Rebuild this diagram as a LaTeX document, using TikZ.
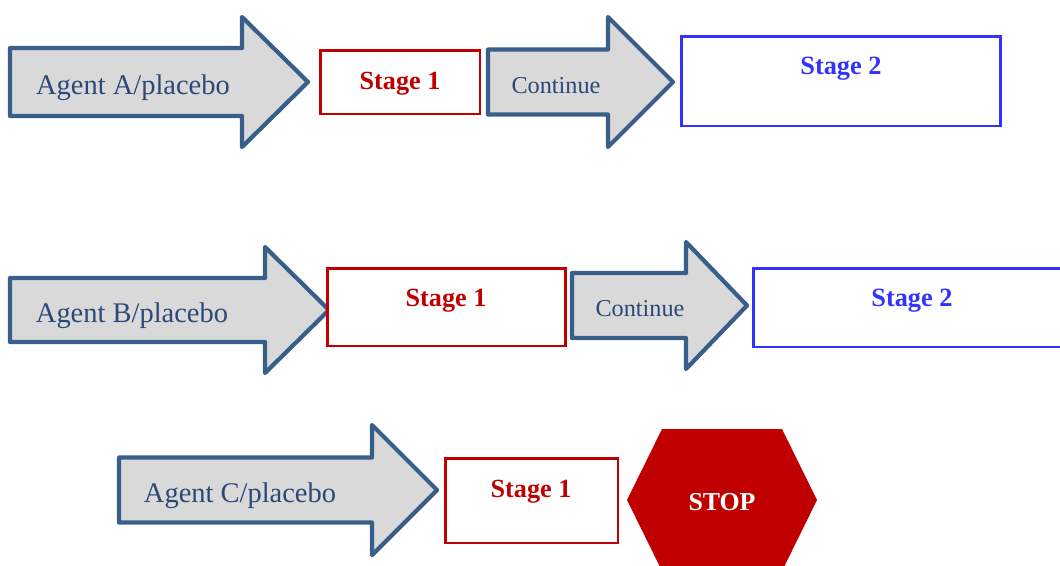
\documentclass[tikz,border=0pt]{standalone}
\usepackage{fontspec}
\setmainfont{Liberation Serif}
\usetikzlibrary{positioning}
\definecolor{arrowline}{RGB}{58,94,138}
\definecolor{arrowfill}{RGB}{217,217,217}
\definecolor{agenttext}{RGB}{44,72,118}
\definecolor{stagered}{RGB}{192,0,0}
\definecolor{stageblue}{RGB}{51,51,255}
% block arrow: left x, head base x, tip x, centre y, half shaft, half head
\newcommand{\blkarrow}[6]{%
  \draw[blockarrow] (#1,#4-#5) -- (#2,#4-#5) -- (#2,#4-#6) -- (#3,#4)
    -- (#2,#4+#6) -- (#2,#4+#5) -- (#1,#4+#5) -- cycle;}
\begin{document}
\begin{tikzpicture}
[x=0.02cm, y=-0.02cm]
\tikzstyle{blockarrow}=[draw=arrowline, fill=arrowfill, line width=2.4pt, line join=round]
\tikzstyle{agent}=[text=agenttext, font=\fontsize{16.2}{18}\selectfont, inner sep=0pt]
\tikzstyle{cont}=[text=agenttext, font=\fontsize{13.8}{16}\selectfont, inner sep=0pt]
\tikzstyle{stage1}=[draw=stagered, line width=1.7pt, fill=white]
\tikzstyle{stage2}=[draw=stageblue, line width=1.7pt, fill=white]
\tikzstyle{redtxt}=[text=stagered, font=\fontsize{14.9}{17}\selectfont\bfseries, inner sep=0pt]
\tikzstyle{bluetxt}=[text=stageblue, font=\fontsize{15}{17}\selectfont\bfseries, inner sep=0pt]
\useasboundingbox (0,0) rectangle (1060,565);

% row A
\blkarrow{10}{242}{308}{82}{34}{65}
\node[agent] (agA) at (133,88) {Agent A/placebo};
\node[stage1, minimum width=3.2cm, minimum height=1.28cm] (s1A) at (400,82) {};
\node[redtxt] (s1Atxt) at (400,84) {Stage 1};
\blkarrow{488}{608}{673}{82}{32.5}{65}
\node[cont] (contA) at (556,86) {Continue};
\node[stage2, minimum width=6.4cm, minimum height=1.8cm] (s2A) at (841,81) {};
\node[bluetxt] (s2Atxt) at (841,69) {Stage 2};

% row B
\blkarrow{10}{265}{329}{310}{32}{63}
\node[agent] (agB) at (132,316) {Agent B/placebo};
\node[stage1, minimum width=4.78cm, minimum height=1.56cm] (s1B) at (446.5,307) {};
\node[redtxt] (s1Btxt) at (446,301) {Stage 1};
\blkarrow{572}{686}{747}{305.5}{32.5}{63.5}
\node[cont] (contB) at (640,309) {Continue};
\node[stage2, minimum width=6.18cm, minimum height=1.58cm] (s2B) at (907.5,307.5) {};
\node[bluetxt] (s2Btxt) at (912,301) {Stage 2};

% row C
\blkarrow{119}{372}{437}{490}{32.5}{65}
\node[agent] (agC) at (240,496) {Agent C/placebo};
\node[stage1, minimum width=3.46cm, minimum height=1.7cm] (s1C) at (531.5,500.5) {};
\node[redtxt] (s1Ctxt) at (531,492) {Stage 1};
\fill[stagered] (627,500) -- (662,429) -- (782,429) -- (817,500) -- (782,571) -- (662,571) -- cycle;
\node[text=white, font=\fontsize{14.7}{17}\selectfont\bfseries, inner sep=0pt] (stop) at (722,502) {STOP};

\end{tikzpicture}
\end{document}
